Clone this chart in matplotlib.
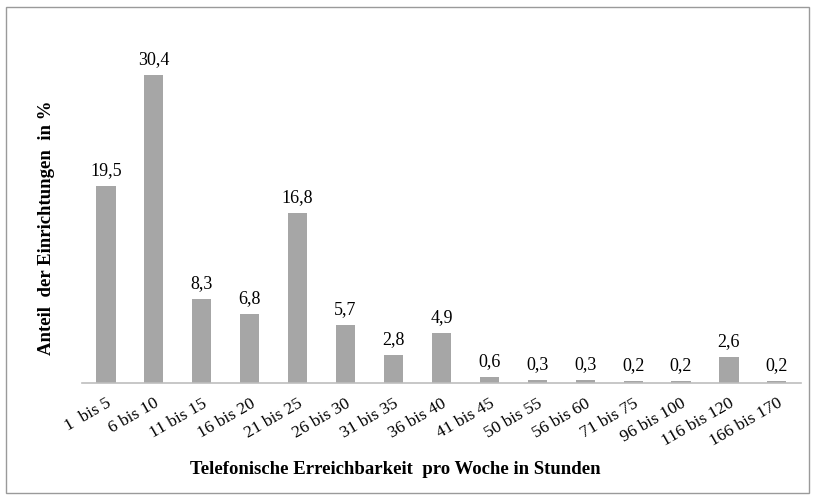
import matplotlib.pyplot as plt
from matplotlib.patches import Rectangle

plt.rcParams['font.family'] = ['Liberation Serif', 'DejaVu Serif']

categories = ['1  bis 5', '6 bis 10', '11 bis 15', '16 bis 20', '21 bis 25',
              '26 bis 30', '31 bis 35', '36 bis 40', '41 bis 45', '50 bis 55',
              '56 bis 60', '71 bis 75', '96 bis 100', '116 bis 120', '166 bis 170']
values = [19.5, 30.4, 8.3, 6.8, 16.8, 5.7, 2.8, 4.9, 0.6, 0.3, 0.3, 0.2, 0.2, 2.6, 0.2]
value_labels = ['19,5', '30,4', '8,3', '6,8', '16,8', '5,7', '2,8', '4,9', '0,6',
                '0,3', '0,3', '0,2', '0,2', '2,6', '0,2']

fig = plt.figure(figsize=(8.15, 5.01), dpi=100)
fig.patches.append(Rectangle((6 / 815, 8 / 501), 803 / 815, 486 / 501,
                             transform=fig.transFigure, fill=False,
                             edgecolor='#9a9a9a', linewidth=1.0))

ax = fig.add_axes([0.1006, 0.2355, 0.882, 0.6866])
x = range(len(categories))
bars = ax.bar(x, values, width=0.4, color='#a6a6a6', edgecolor='none')

for b, lab in zip(bars, value_labels):
    ax.annotate(lab, (b.get_x() + b.get_width() / 2, b.get_height()),
                xytext=(0, 5), textcoords='offset points',
                ha='center', va='bottom', fontsize=13)

ax.set_xlim(-0.5, len(categories) - 0.5)
ax.set_ylim(0, 34)
ax.set_xticks(list(x))
ax.set_xticklabels(categories, rotation=30, ha='right', rotation_mode='anchor',
                   fontsize=12.5)
ax.tick_params(axis='x', length=0, pad=9)
ax.set_yticks([])
for s in ['top', 'right', 'left']:
    ax.spines[s].set_visible(False)
ax.spines['bottom'].set_color('#bdbdbd')
ax.spines['bottom'].set_linewidth(1.2)

fig.text(395 / 815, 1 - 469 / 501, 'Telefonische Erreichbarkeit  pro Woche in Stunden',
         ha='center', va='center', fontsize=13.5, fontweight='bold')
fig.text(47 / 815, 1 - 228 / 501, 'Anteil  der Einrichtungen  in %',
         ha='center', va='center', rotation=90, fontsize=13.5, fontweight='bold')

fig.savefig('out.png', dpi=100)
